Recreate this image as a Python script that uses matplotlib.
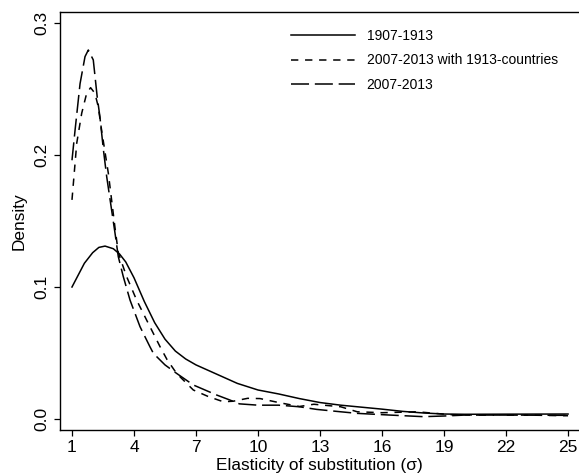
import numpy as np
import matplotlib
matplotlib.use("Agg")
import matplotlib.pyplot as plt

plt.rcParams['font.family'] = ['Liberation Sans', 'DejaVu Sans']

# 1907-1913 (solid)
x_old = [1.0, 1.3, 1.6, 2.0, 2.3, 2.6, 3.0, 3.3, 3.6, 4.0, 4.5, 5.0, 5.5, 6.0,
         6.5, 7.0, 8.0, 9.0, 10.0, 11.0, 12.0, 13.0, 14.0, 15.0, 16.0, 17.0,
         18.0, 19.0, 20.0, 22.0, 25.0]
y_old = [0.100, 0.109, 0.118, 0.126, 0.130, 0.131, 0.129, 0.125, 0.119, 0.107,
         0.089, 0.073, 0.0605, 0.0515, 0.0455, 0.041, 0.034, 0.027, 0.022,
         0.019, 0.0155, 0.0125, 0.0105, 0.009, 0.0075, 0.0058, 0.0046, 0.0038,
         0.0036, 0.0037, 0.0038]

# 2007-2013 with 1913-countries (short dash)
x_sub = [1.0, 1.23, 1.47, 1.71, 1.9, 2.11, 2.27, 2.43, 2.76, 3.08, 3.24, 3.64,
         4.13, 4.61, 5.26, 5.6, 6.06, 6.87, 7.6, 8.32, 8.8, 9.5, 10.1, 11.0,
         12.0, 12.7, 14.0, 14.8, 16.0, 17.7, 19.3, 21.0, 23.0, 25.0]
y_sub = [0.166, 0.209, 0.2316, 0.2467, 0.251, 0.2467, 0.2366, 0.219, 0.186,
         0.145, 0.126, 0.108, 0.090, 0.075, 0.0548, 0.045, 0.0346, 0.022,
         0.017, 0.0131, 0.0135, 0.0157, 0.0155, 0.0125, 0.0095, 0.0112,
         0.0093, 0.0055, 0.0048, 0.0055, 0.0033, 0.003, 0.003, 0.0025]

# 2007-2013 (long dash)
x_new = [1.0, 1.15, 1.39, 1.63, 1.79, 2.03, 2.22, 2.35, 2.52, 2.68, 3.08, 3.24,
         3.48, 3.81, 4.29, 4.77, 4.94, 5.5, 6.06, 6.87, 8.0, 8.64, 9.1, 10.0,
         11.0, 12.0, 12.84, 14.0, 14.8, 16.4, 18.0, 19.0, 20.0, 22.0, 25.0]
y_new = [0.196, 0.219, 0.254, 0.2745, 0.2795, 0.272, 0.244, 0.229, 0.204,
         0.1835, 0.141, 0.123, 0.108, 0.090, 0.070, 0.0548, 0.0497, 0.041,
         0.0346, 0.0258, 0.0182, 0.0144, 0.0115, 0.0105, 0.0105, 0.0093,
         0.0073, 0.0055, 0.0043, 0.003, 0.0018, 0.0023, 0.003, 0.003, 0.0028]

xticks = [1, 4, 7, 10, 13, 16, 19, 22, 25]
yticks = [0.0, 0.1, 0.2, 0.3]

fig = plt.figure(figsize=(5.79, 4.76), dpi=100)
ax = fig.add_axes([60 / 579, 46 / 476, 519 / 579, 418 / 476])

ax.plot(x_old, y_old, color='black', lw=1.1, label='1907-1913')
ax.plot(x_sub, y_sub, color='black', lw=1.1, dashes=(4.8, 4.4),
        label='2007-2013 with 1913-countries')
ax.plot(x_new, y_new, color='black', lw=1.1, dashes=(11.8, 3.8),
        label='2007-2013')

ax.set_xlim(0.42, 25.53)
ax.set_ylim(-0.0083, 0.3083)
ax.set_xticks(xticks)
ax.set_yticks(yticks)
ax.set_yticklabels(['%.1f' % v for v in yticks], rotation=90, va='center')
ax.tick_params(direction='out', length=4.3, width=0.9, labelsize=12.5, pad=3)
ax.spines['right'].set_visible(False)
for s in ['left', 'top', 'bottom']:
    ax.spines[s].set_linewidth(1.0)

ax.set_xlabel('Elasticity of substitution (σ)', fontsize=12.4, labelpad=2)
ax.set_ylabel('Density', fontsize=12.4, labelpad=6)

ax.legend(loc='upper left', bbox_to_anchor=(291 / 579, 1 - 29 / 476),
          bbox_transform=fig.transFigure, frameon=False, fontsize=10,
          handlelength=4.6, handletextpad=0.85, labelspacing=0.75,
          borderaxespad=0, borderpad=0)

fig.savefig('out.png', dpi=100)
